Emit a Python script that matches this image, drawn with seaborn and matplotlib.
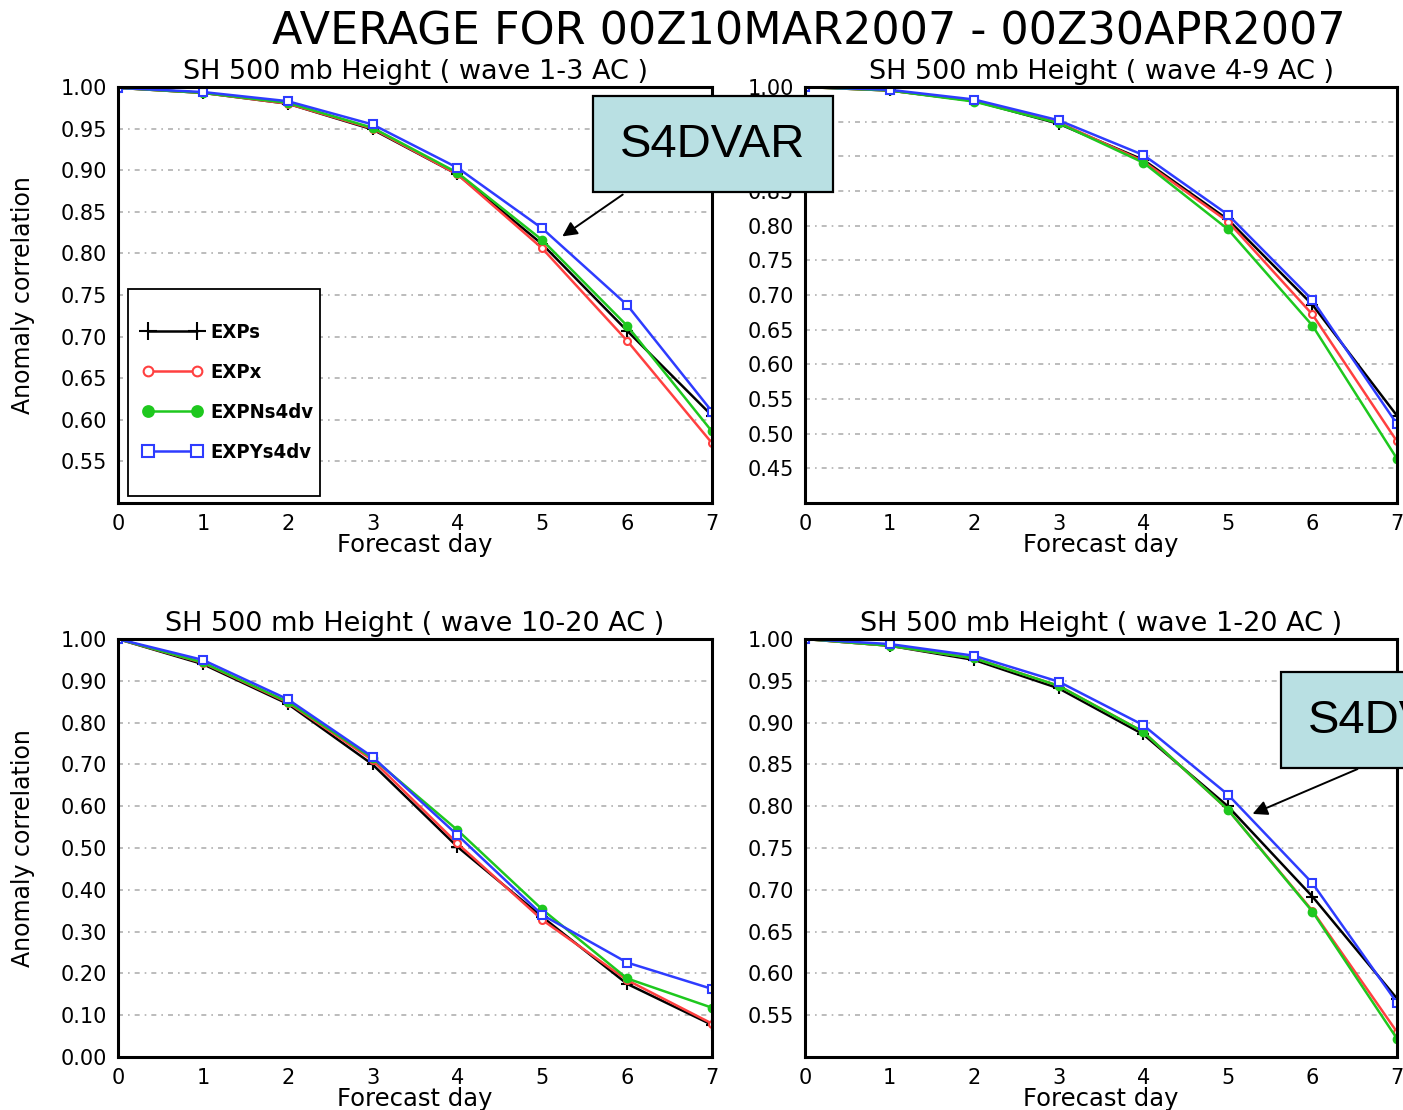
import matplotlib
matplotlib.use('Agg')
import matplotlib.pyplot as plt
import matplotlib.font_manager as fm
from matplotlib.patches import Rectangle, FancyArrowPatch
import seaborn as sns

sns.set_style('white')
plt.rcParams['font.family'] = ['DejaVu Sans']
plt.rcParams['text.color'] = 'black'
plt.rcParams['axes.labelcolor'] = 'black'
plt.rcParams['xtick.color'] = 'black'
plt.rcParams['ytick.color'] = 'black'

installed = {f.name for f in fm.fontManager.ttflist}
narrow = 'Liberation Sans Narrow' if 'Liberation Sans Narrow' in installed else 'DejaVu Sans'

days = [0, 1, 2, 3, 4, 5, 6, 7]
exp_names = ['EXPs', 'EXPx', 'EXPNs4dv', 'EXPYs4dv']

# wave 1-3
w13_exps = [0.999, 0.993, 0.980, 0.949, 0.895, 0.811, 0.707, 0.605]
w13_expx = [0.999, 0.993, 0.980, 0.950, 0.895, 0.806, 0.695, 0.572]
w13_ns4dv = [0.999, 0.993, 0.981, 0.951, 0.897, 0.816, 0.713, 0.586]
w13_ys4dv = [0.999, 0.994, 0.983, 0.955, 0.903, 0.830, 0.738, 0.610]

# wave 4-9
w49_exps = [1.000, 0.995, 0.980, 0.947, 0.895, 0.809, 0.686, 0.526]
w49_expx = [1.000, 0.995, 0.980, 0.949, 0.893, 0.806, 0.672, 0.489]
w49_ns4dv = [1.000, 0.995, 0.979, 0.948, 0.891, 0.795, 0.656, 0.464]
w49_ys4dv = [1.000, 0.996, 0.982, 0.952, 0.902, 0.816, 0.693, 0.514]

# wave 10-20
w1020_exps = [1.000, 0.940, 0.845, 0.700, 0.503, 0.335, 0.175, 0.077]
w1020_expx = [1.000, 0.943, 0.848, 0.710, 0.511, 0.328, 0.184, 0.080]
w1020_ns4dv = [1.000, 0.944, 0.850, 0.715, 0.543, 0.353, 0.188, 0.118]
w1020_ys4dv = [1.000, 0.950, 0.856, 0.718, 0.531, 0.340, 0.226, 0.163]

# wave 1-20
w120_exps = [1.000, 0.992, 0.975, 0.941, 0.886, 0.800, 0.692, 0.570]
w120_expx = [1.000, 0.992, 0.977, 0.944, 0.889, 0.796, 0.675, 0.530]
w120_ns4dv = [1.000, 0.992, 0.977, 0.944, 0.889, 0.796, 0.674, 0.522]
w120_ys4dv = [1.000, 0.994, 0.980, 0.949, 0.897, 0.814, 0.708, 0.565]

yt_a = [0.55, 0.60, 0.65, 0.70, 0.75, 0.80, 0.85, 0.90, 0.95, 1.00]
yt_b = [0.45, 0.50, 0.55, 0.60, 0.65, 0.70, 0.75, 0.80, 0.85, 0.90, 0.95, 1.00]
yt_c = [0.0, 0.1, 0.2, 0.3, 0.4, 0.5, 0.6, 0.7, 0.8, 0.9, 1.0]

# colour, marker, face colour, marker size
styles = {
    'EXPs': ('black', '+', 'black', 9),
    'EXPx': ('#ff4040', 'o', 'white', 5),
    'EXPNs4dv': ('#1ec81e', 'o', '#1ec81e', 5.5),
    'EXPYs4dv': ('#2e3cff', 's', 'white', 6),
}

W, H = 1403, 1110
fig = plt.figure(figsize=(W / 100, H / 100), dpi=100)

panels = [
    ('SH 500 mb Height ( wave 1-3 AC )', [w13_exps, w13_expx, w13_ns4dv, w13_ys4dv],
     (0.5, 1.0), yt_a, [0.0841, 0.5468, 0.4234, 0.3748], True),
    ('SH 500 mb Height ( wave 4-9 AC )', [w49_exps, w49_expx, w49_ns4dv, w49_ys4dv],
     (0.4, 1.0), yt_b, [0.5738, 0.5468, 0.4219, 0.3748], False),
    ('SH 500 mb Height ( wave 10-20 AC )', [w1020_exps, w1020_expx, w1020_ns4dv, w1020_ys4dv],
     (0.0, 1.0), yt_c, [0.0841, 0.0477, 0.4234, 0.3766], True),
    ('SH 500 mb Height ( wave 1-20 AC )', [w120_exps, w120_expx, w120_ns4dv, w120_ys4dv],
     (0.5, 1.0), yt_a, [0.5738, 0.0477, 0.4219, 0.3766], False),
]

axes = []
for title, series, ylim, yticks, rect, show_ylabel in panels:
    ax = fig.add_axes(rect)
    for name, vals in zip(exp_names, series):
        c, m, fc, ms = styles[name]
        sns.lineplot(x=days, y=vals, ax=ax, color=c, marker=m, markersize=ms,
                     markerfacecolor=fc, markeredgecolor=c, markeredgewidth=1.5,
                     linewidth=1.8, label=name, legend=False)
    ax.set_xlim(0, 7)
    ax.set_ylim(*ylim)
    ax.set_xticks(days)
    ax.set_yticks(yticks)
    ax.set_yticklabels([f'{t:.2f}' for t in yticks])
    ax.yaxis.grid(True, color='#b0b0b0', linestyle=(0, (3, 3, 1, 3)), linewidth=1.2)
    ax.xaxis.grid(False)
    ax.set_axisbelow(True)
    for sp in ax.spines.values():
        sp.set_color('black')
        sp.set_linewidth(2.2)
    ax.tick_params(axis='y', direction='out', length=5, width=1.2, labelsize=15, pad=3)
    ax.tick_params(axis='x', length=0, labelsize=15, pad=8)
    ax.set_title(title, fontsize=19.5, pad=6)
    ax.set_xlabel('Forecast day', fontsize=17.5, labelpad=-1)
    if show_ylabel:
        ax.set_ylabel('Anomaly correlation', fontsize=17, labelpad=18)
    else:
        ax.set_ylabel('')
    axes.append(ax)

# legend: frame drawn as its own box, entries centred inside it
ax0 = axes[0]
ax0.add_patch(Rectangle((0.0168, 0.0168), 0.3232, 0.4972, transform=ax0.transAxes,
                        facecolor='white', edgecolor='black', linewidth=1.3, zorder=5))
leg = ax0.legend(loc='center', bbox_to_anchor=(0.185, 0.266), borderaxespad=0,
                 numpoints=2, handlelength=3.0, handletextpad=0.4, frameon=False,
                 borderpad=0.2, labelspacing=1.05, markerscale=1.4,
                 prop=fm.FontProperties(family=narrow, weight='bold', size=14.5,
                                        stretch='condensed'))
leg.set_zorder(6)

fig.text(809 / W, 1 - 32 / H, 'AVERAGE FOR 00Z10MAR2007 - 00Z30APR2007',
         ha='center', va='center', fontsize=32)

# S4DVAR call-outs
for bx, by, ax0_, ay0, ax1, ay1 in [(593, 96, 625, 193, 560, 238),
                                    (1281, 672, 1360, 768, 1250, 815)]:
    fig.add_artist(FancyArrowPatch((ax0_ / W, 1 - ay0 / H), (ax1 / W, 1 - ay1 / H),
                                   transform=fig.transFigure, arrowstyle='-|>',
                                   mutation_scale=22, color='black', lw=1.4, zorder=9))
    fig.add_artist(Rectangle((bx / W, 1 - (by + 96) / H), 240 / W, 96 / H,
                             transform=fig.transFigure, facecolor='#b9e0e3',
                             edgecolor='black', linewidth=1.6, zorder=10))
    fig.text((bx + 120) / W, 1 - (by + 49) / H, 'S4DVAR', ha='center', va='center',
             fontsize=34, family='Liberation Sans', zorder=11)

fig.savefig('out.png', dpi=100)
